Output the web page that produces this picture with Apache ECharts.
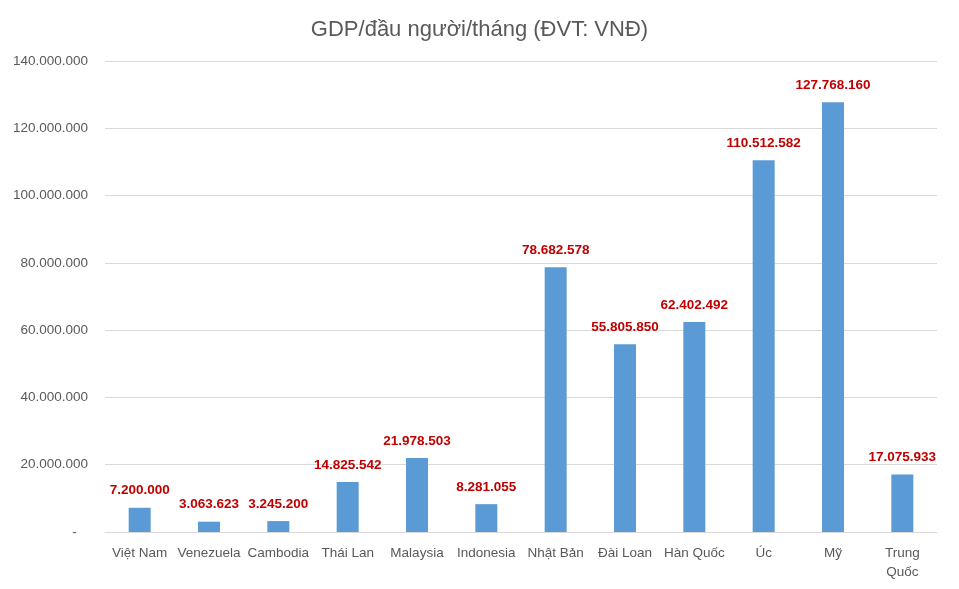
<!DOCTYPE html>
<html><head><meta charset="utf-8">
<script src="https://cdn.jsdelivr.net/npm/echarts@6/dist/echarts.min.js"></script>
<style>html,body{margin:0;padding:0;background:#fff}#c{width:959px;height:589px}</style>
</head><body><div id="c"></div>
<script>
const categories = ["Việt Nam","Venezuela","Cambodia","Thái Lan","Malaysia","Indonesia","Nhật Bản","Đài Loan","Hàn Quốc","Úc","Mỹ","Trung\nQuốc"];
const values = [7200000,3063623,3245200,14825542,21978503,8281055,78682578,55805850,62402492,110512582,127768160,17075933];
const titleText = "GDP/đầu người/tháng (ĐVT: VNĐ)";
const yMin = 0, yMax = 140000000, yInterval = 20000000;

function fmt(v){
  if (v === 0) return "-   ";
  return String(Math.round(v)).replace(/\B(?=(\d{3})+(?!\d))/g, ".");
}
const chart = echarts.init(document.getElementById('c'));
chart.setOption({
  animation:false,
  backgroundColor:'#fff',
  title:{text:titleText,left:'center',top:14,textStyle:{fontFamily:'Liberation Sans',fontSize:22,fontWeight:'normal',color:'#595959'}},
  grid:{left:105,right:22,top:61,bottom:57},
  xAxis:{type:'category',data:categories,
    axisLine:{lineStyle:{color:'#d9d9d9'}},axisTick:{show:false},
    axisLabel:{color:'#595959',fontFamily:'Liberation Sans',fontSize:13.5,margin:12,lineHeight:19,interval:0}},
  yAxis:{type:'value',min:yMin,max:yMax,interval:yInterval,
    axisLine:{show:false},axisTick:{show:false},
    splitLine:{lineStyle:{color:'#d9d9d9'}},
    axisLabel:{color:'#595959',fontFamily:'Liberation Sans',fontSize:13.5,margin:17,formatter:fmt}},
  series:[{type:'bar',data:values,barWidth:22,
    itemStyle:{color:'#5B9BD5'},
    label:{show:true,position:'top',distance:10,color:'#C00000',fontWeight:'bold',fontFamily:'Liberation Sans',fontSize:13.5,formatter:p=>fmt(p.value)}}]
});
</script></body></html>
